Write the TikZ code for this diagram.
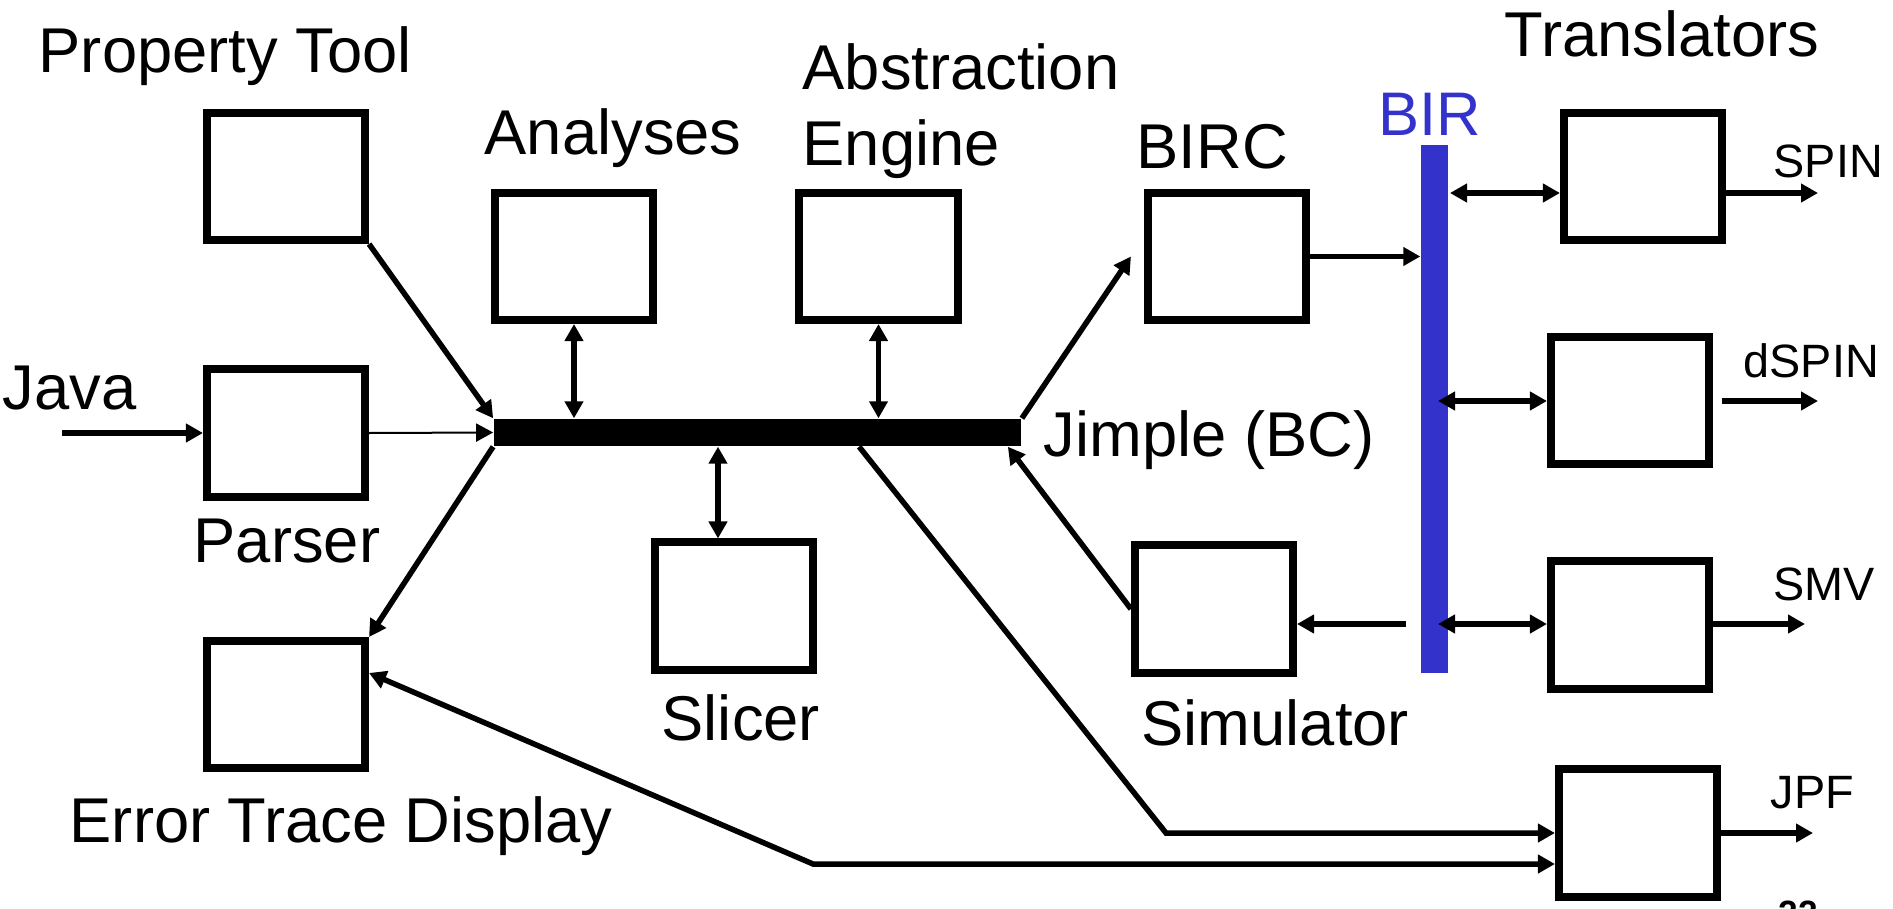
\documentclass[tikz,border=0pt]{standalone}
\usepackage{fontspec}
\setmainfont{Liberation Sans}
\usetikzlibrary{arrows.meta,calc}
\definecolor{birblue}{RGB}{51,51,204}
\begin{document}
\begin{tikzpicture}[x=0.01cm,y=-0.01cm,
  box/.style={draw,line width=0.08cm,minimum width=1.58cm,minimum height=1.27cm,inner sep=0},
  lbl/.style={font=\fontsize{18}{21.6}\selectfont,inner sep=0,anchor=base west},
  sml/.style={font=\fontsize{13.3}{16}\selectfont,inner sep=0,anchor=base west},
  mytri/.tip={Triangle[length=0.17cm,width=0.18cm]},
  arr/.style={line width=0.055cm,-mytri},
  darr/.style={line width=0.055cm,mytri-mytri},
  thinarr/.style={line width=0.02cm,-mytri},
]
\useasboundingbox (0,0) rectangle (1893,909);

% buses
\node[fill=black,inner sep=0,minimum width=5.27cm,minimum height=0.27cm] (bus) at (757.5,432.5) {};
\node[fill=birblue,inner sep=0,minimum width=0.27cm,minimum height=5.28cm] (bir) at (1434.5,409) {};

% boxes
\node[box] (prop) at (286,176.5) {};
\node[box] (parser) at (286,433) {};
\node[box] (err) at (286,704.5) {};
\node[box] (ana) at (574,256.5) {};
\node[box] (abs) at (878.5,256.5) {};
\node[box] (slicer) at (734,606) {};
\node[box] (birc) at (1227,256.5) {};
\node[box] (sim) at (1214,609) {};
\node[box] (t1) at (1643,176.5) {};
\node[box] (t2) at (1630,400.5) {};
\node[box] (t3) at (1630,625) {};
\node[box] (t4) at (1638,833) {};

% labels
\node[lbl] (tprop) at (38,73) {Property Tool};
\node[lbl] (tana) at (484,154) {Analyses};
\node[lbl] (tabs1) at (802,90) {Abstraction};
\node[lbl] (tabs2) at (802,166) {Engine};
\node[lbl] (tbirc) at (1136,168) {BIRC};
\node[lbl,font=\fontsize{17.5}{21}\selectfont,text=birblue] (tbir) at (1378,136) {BIR};
\node[lbl] (ttrans) at (1504,57) {Translators};
\node[sml] (tspin) at (1773,177) {SPIN};
\node[sml] (tdspin) at (1743,377) {dSPIN};
\node[sml] (tsmv) at (1773,600) {SMV};
\node[sml] (tjpf) at (1770,808) {JPF};
\node[lbl] (tjava) at (2,409) {Java};
\node[lbl] (tparser) at (193,562) {Parser};
\node[lbl] (tslicer) at (661,740) {Slicer};
\node[lbl] (tsim) at (1141,745) {Simulator};
\node[lbl] (tjimple) at (1043,456) {Jimple (BC)};
\node[lbl] (terr) at (69,842) {Error Trace Display};
\node[font=\bfseries\fontsize{10}{12}\selectfont,inner sep=0,anchor=north west] (pg) at (1778,900) {22};

% coordinates
\coordinate (javain) at (62,433);
\coordinate (simsrc) at (1406,624);
\coordinate (t1a) at (1450,193);
\coordinate (spinout) at (1818,193);
\coordinate (t2a) at (1438,401);
\coordinate (t2s) at (1722,401);
\coordinate (t2e) at (1818,401);
\coordinate (t3a) at (1438,624);
\coordinate (smvout) at (1805,624);
\coordinate (jpfout) at (1813,833);
\coordinate (jbend) at (1166,833);
\coordinate (ebend) at (813,864);

% connectors
\draw[arr] (javain) -- (parser.west);
\draw[thinarr] (parser.east) -- (bus.west);
\draw[arr] (prop.south east) -- (bus.north west);
\draw[darr] (ana.south) -- (ana.south |- bus.north);
\draw[darr] (abs.south) -- (abs.south |- bus.north);
\draw[darr] ([xshift=-0.16cm]slicer.north) -- ([xshift=-0.16cm]slicer.north |- bus.south);
\draw[arr] (bus.south west) -- (err.north east);
\draw[arr] (bus.north east) -- ([xshift=-0.13cm]birc.west);
\draw[arr] (birc.east) -- (birc.east -| bir.west);
\draw[arr] (sim.west) -- ([xshift=-0.14cm]bus.south east);
\draw[arr] (simsrc) -- (simsrc -| sim.east);
\draw[darr] (t1a) -- (t1a -| t1.west);
\draw[arr] (t1a -| t1.east) -- (spinout);
\draw[darr] (t2a) -- (t2a -| t2.west);
\draw[arr] (t2s) -- (t2e);
\draw[darr] (t3a) -- (t3a -| t3.west);
\draw[arr] (t3a -| t3.east) -- (smvout);
\draw[arr] (t4.east) -- (jpfout);
\draw[arr] ($(bus.south west)+(366,0)$) -- (jbend) -- (jbend -| t4.west);
\draw[darr] ([yshift=0.315cm]err.east) -- (ebend) -- (ebend -| t4.west);
\end{tikzpicture}
\end{document}
